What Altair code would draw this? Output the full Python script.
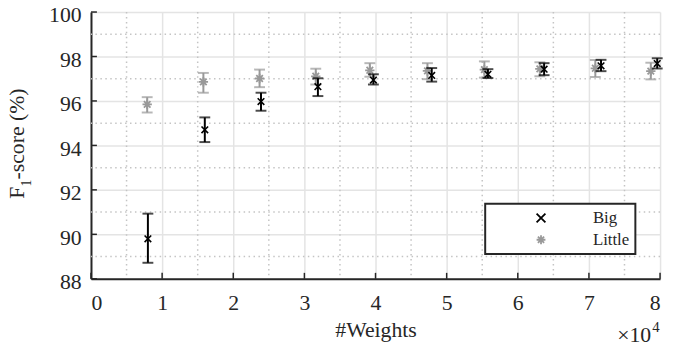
import altair as alt
import pandas as pd

# ---- data ----
series_names = ["Big", "Little"]
x_big = [8000, 16000, 23900, 31900, 39700, 47900, 55800, 63700, 71700, 79600]
big_mean = [89.80, 94.70, 95.97, 96.64, 96.94, 97.15, 97.20, 97.43, 97.58, 97.68]
big_lo = [88.72, 94.15, 95.56, 96.22, 96.74, 96.87, 97.03, 97.16, 97.34, 97.46]
big_hi = [90.93, 95.26, 96.37, 97.02, 97.20, 97.48, 97.43, 97.70, 97.85, 97.92]

x_little = [7900, 15800, 23700, 31600, 39200, 47300, 55300, 63100, 70900, 78700]
little_mean = [95.85, 96.86, 97.01, 97.11, 97.38, 97.35, 97.41, 97.44, 97.47, 97.34]
little_lo = [95.48, 96.37, 96.62, 96.74, 97.09, 96.98, 97.05, 97.11, 97.08, 96.97]
little_hi = [96.17, 97.26, 97.41, 97.45, 97.70, 97.70, 97.78, 97.74, 97.84, 97.72]

x_ticks = [0, 10000, 20000, 30000, 40000, 50000, 60000, 70000, 80000]
y_ticks = [88, 90, 92, 94, 96, 98, 100]
x_minor = [5000, 15000, 25000, 35000, 45000, 55000, 65000, 75000]
y_minor = [89, 91, 93, 95, 97, 99]

FONT = "Liberation Serif"
TXT = "#262626"

df_big = pd.DataFrame({"series": "Big", "x": x_big, "m": big_mean, "lo": big_lo, "hi": big_hi})
df_lit = pd.DataFrame({"series": "Little", "x": x_little, "m": little_mean, "lo": little_lo, "hi": little_hi})

xs = alt.Scale(domain=[0, 80000], nice=False, zero=False)
ys = alt.Scale(domain=[88, 100], nice=False, zero=False)

X_AX = alt.Axis(values=x_ticks, labelExpr="datum.value / 10000", title="#Weights",
                labelPadding=14, titlePadding=6)
Y_AX = alt.Axis(values=y_ticks, title=None, labelPadding=10, labelOffset=3)


def XE(field):
    return alt.X(field, scale=xs, axis=X_AX)


def YE(field):
    return alt.Y(field, scale=ys, axis=Y_AX)


shape_x = "M-1,-1L1,1M-1,1L1,-1"
shape_star = "M-1,0L1,0M0,-1L0,1M-0.7,-0.7L0.7,0.7M-0.7,0.7L0.7,-0.7"

LEG = alt.Legend(orient="none", legendX=399, legendY=194, title=None,
                 direction="vertical", fillColor="white", strokeColor="#262626",
                 padding=6, rowPadding=4, symbolOffset=42, labelOffset=44,
                 labelFont=FONT, labelFontSize=17, labelColor=TXT,
                 symbolStrokeWidth=1.8, symbolSize=80)
color_enc = alt.Color("series:N", scale=alt.Scale(domain=series_names, range=["#000000", "#999999"]), legend=LEG)
shape_enc = alt.Shape("series:N", scale=alt.Scale(domain=series_names, range=[shape_x, shape_star]), legend=LEG)

minor_x = alt.Chart(pd.DataFrame({"v": x_minor})).mark_rule(
    color="#c4c4c4", strokeWidth=1.5, strokeDash=[1.5, 3.5]).encode(x=XE("v:Q"))
minor_y = alt.Chart(pd.DataFrame({"v": y_minor})).mark_rule(
    color="#c4c4c4", strokeWidth=1.5, strokeDash=[1.5, 3.5]).encode(y=YE("v:Q"))


def series_layers(df, col, size, sw):
    base = alt.Chart(df)
    bars = base.mark_rule(color=col, strokeWidth=2).encode(x=XE("x:Q"), y=YE("lo:Q"), y2="hi:Q")
    cap_lo = base.mark_tick(color=col, thickness=2, size=11, orient="horizontal").encode(
        x=XE("x:Q"), y=YE("lo:Q"))
    cap_hi = base.mark_tick(color=col, thickness=2, size=11, orient="horizontal").encode(
        x=XE("x:Q"), y=YE("hi:Q"))
    pts = base.mark_point(filled=False, strokeWidth=sw, size=size, opacity=1).encode(
        x=XE("x:Q"), y=YE("m:Q"), color=color_enc, shape=shape_enc)
    return [bars, cap_lo, cap_hi, pts]


ytick_marks = alt.Chart(pd.DataFrame({"v": y_ticks})).mark_rule(color=TXT, strokeWidth=1.5).encode(
    y=YE("v:Q"), x=alt.value(0), x2=alt.value(6))
xtick_marks = alt.Chart(pd.DataFrame({"v": x_ticks})).mark_rule(color=TXT, strokeWidth=1.5).encode(
    x=XE("v:Q"), y=alt.value(270), y2=alt.value(264))

# exponent label  "×10^4"
exp_main = alt.Chart(pd.DataFrame({"t": ["×10"]})).mark_text(
    font=FONT, fontSize=22, color=TXT, align="right", baseline="alphabetic").encode(
    text="t:N", x=alt.value(567), y=alt.value(334))
exp_sup = alt.Chart(pd.DataFrame({"t": ["4"]})).mark_text(
    font=FONT, fontSize=15, color=TXT, align="left", baseline="alphabetic").encode(
    text="t:N", x=alt.value(568), y=alt.value(324))

# y title "F_1-score (%)" (rotated, subscript 1)
yt_F = alt.Chart(pd.DataFrame({"t": ["F"]})).mark_text(
    font=FONT, fontSize=22, color=TXT, align="left", baseline="alphabetic", angle=270).encode(
    text="t:N", x=alt.value(-68), y=alt.value(189))
yt_1 = alt.Chart(pd.DataFrame({"t": ["1"]})).mark_text(
    font=FONT, fontSize=14, color=TXT, align="left", baseline="alphabetic", angle=270).encode(
    text="t:N", x=alt.value(-61), y=alt.value(176.5))
yt_rest = alt.Chart(pd.DataFrame({"t": ["-score (%)"]})).mark_text(
    font=FONT, fontSize=22, color=TXT, align="left", baseline="alphabetic", angle=270).encode(
    text="t:N", x=alt.value(-68), y=alt.value(169.5))

layers = [minor_x, minor_y] + series_layers(df_lit, "#999999", 90, 1.8) + \
    series_layers(df_big, "#000000", 45, 1.6) + [
    ytick_marks, xtick_marks, exp_main, exp_sup, yt_F, yt_1, yt_rest]

chart = alt.layer(*layers).properties(
    width=576, height=270,
    padding={"left": 84, "top": 2, "right": 5, "bottom": 70},
    autosize=alt.AutoSizeParams(type="none"),
).configure_view(stroke=None).configure_axis(
    grid=True, gridColor="#e4e4e4", gridWidth=1.5,
    domainColor=TXT, domainWidth=2, ticks=False, tickSize=0,
    labelFont=FONT, labelFontSize=22, labelColor=TXT,
    titleFont=FONT, titleFontSize=22, titleFontWeight="normal", titleColor=TXT,
).configure_legend(
    labelFont=FONT, labelFontSize=17, labelColor=TXT, strokeWidth=2,
).configure_text(font=FONT)

chart.save("out.html", embed_options={"renderer": "svg", "actions": False})
